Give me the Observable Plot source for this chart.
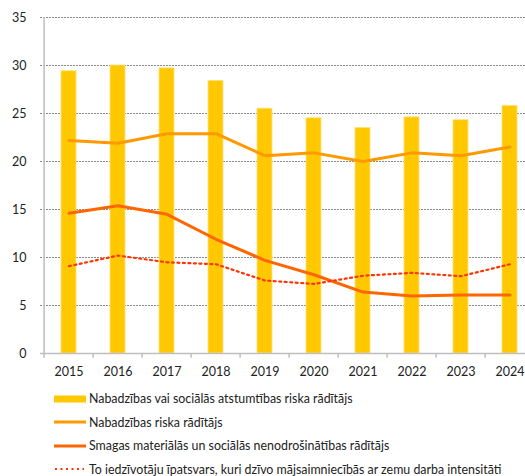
<!DOCTYPE html>
<html>
<head>
<meta charset="utf-8">
<script src="https://cdn.jsdelivr.net/npm/d3@7"></script>
<script src="https://cdn.jsdelivr.net/npm/@observablehq/plot@0.6"></script>
<style>
  html, body { margin: 0; padding: 0; background: #fff; }
  body { width: 525px; height: 476px; overflow: hidden; font-family: Lato, "Liberation Sans", sans-serif; }
  #chart { width: 525px; height: 385px; overflow: hidden; }
  #chart svg { max-width: none !important; }
  #legend { padding-top: 2px; }
  .row { display: flex; align-items: center; height: 23.5px; font-size: 12.4px; color: #222; }
  .row svg { margin-left: 54px; margin-right: 3px; flex: none; }
</style>
</head>
<body>
<div id="chart"></div>
<div id="legend"></div>
<script>
const years = ["2015","2016","2017","2018","2019","2020","2021","2022","2023","2024"];
const arope = [29.4, 30.0, 29.7, 28.4, 25.5, 24.5, 23.5, 24.6, 24.3, 25.8];
const atRisk = [22.2, 21.9, 22.9, 22.9, 20.6, 20.9, 20.0, 20.9, 20.6, 21.5];
const severe = [14.6, 15.4, 14.5, 11.9, 9.7, 8.2, 6.4, 6.0, 6.1, 6.1];
const lowWork = [9.1, 10.2, 9.5, 9.3, 7.6, 7.25, 8.1, 8.4, 8.05, 9.3];
const yTicks = [0, 5, 10, 15, 20, 25, 30, 35];
const labels = [
  "Nabadzības vai sociālās atstumtības riska rādītājs",
  "Nabadzības riska rādītājs",
  "Smagas materiālās un sociālās nenodrošinātības rādītājs",
  "To iedzīvotāju īpatsvars, kuri dzīvo mājsaimniecībās ar zemu darba intensitāti"
];
const colors = ["#FFC800", "#FF9900", "#FF6600", "#FF3300"];

const W = 538, H = 385, ML = 40, MR = 0, MT = 17, MB = 32;
const padIn = 0.7, padOut = 0.35;
const step = (W - ML - MR) / (years.length - padIn + 2 * padOut);

const rows = years.map((y, i) => ({year: y, arope: arope[i], atRisk: atRisk[i], severe: severe[i], lowWork: lowWork[i]}));

const chart = Plot.plot({
  width: W, height: H,
  marginLeft: ML, marginRight: MR, marginTop: MT, marginBottom: MB,
  style: {fontFamily: "Lato, 'Liberation Sans', sans-serif", fontSize: "12.5px", color: "#222", background: "#fff", maxWidth: "none"},
  x: {type: "band", domain: years, paddingInner: padIn, paddingOuter: padOut, label: null},
  y: {domain: [0, 35], label: null},
  marks: [
    Plot.ruleY(yTicks.filter(d => d > 0), {stroke: "#8a8a8a", strokeWidth: 1, strokeDasharray: "2,1"}),
    Plot.barY(rows, {x: "year", y: "arope", fill: colors[0], stroke: "#FFE27A", strokeWidth: 0.8}),
    Plot.lineY(rows, {x: "year", y: "atRisk", stroke: colors[1], strokeWidth: 3}),
    Plot.lineY(rows, {x: "year", y: "severe", stroke: colors[2], strokeWidth: 3}),
    Plot.lineY(rows, {x: "year", y: "lowWork", stroke: colors[3], strokeWidth: 2.2, strokeDasharray: "2,3.5"}),
    Plot.ruleY([0], {stroke: "#bfbfbf", strokeWidth: 1.5}),
    Plot.ruleX(years, {x: d => d, y1: 0, y2: -0.5, dx: -step / 2, stroke: "#bfbfbf", strokeWidth: 1.5}),
    Plot.ruleX([0], {x: () => years[0], y1: 0, y2: 35, dx: -step / 2, stroke: "#bfbfbf", strokeWidth: 1.5}),
    Plot.axisY(yTicks, {tickSize: 0, tickPadding: 14, label: null, fontSize: 12.5}),
    Plot.axisX(years, {tickSize: 0, tickPadding: 14, label: null, fontSize: 12.5})
  ]
});
chart.style.maxWidth = "none";
document.getElementById("chart").append(chart);

const legend = document.getElementById("legend");
labels.forEach((lab, i) => {
  const row = document.createElement("div");
  row.className = "row";
  let sw;
  if (i === 0) sw = `<svg width="32" height="10"><rect x="0" y="1.5" width="32" height="7" fill="${colors[0]}"/></svg>`;
  else if (i < 3) sw = `<svg width="32" height="10"><line x1="0" x2="32" y1="5" y2="5" stroke="${colors[i]}" stroke-width="3"/></svg>`;
  else sw = `<svg width="32" height="10"><line x1="1" x2="30" y1="5" y2="5" stroke="${colors[i]}" stroke-width="2.2" stroke-dasharray="2,3.5"/></svg>`;
  row.innerHTML = sw + `<span>${lab}</span>`;
  legend.append(row);
});
</script>
</body>
</html>
